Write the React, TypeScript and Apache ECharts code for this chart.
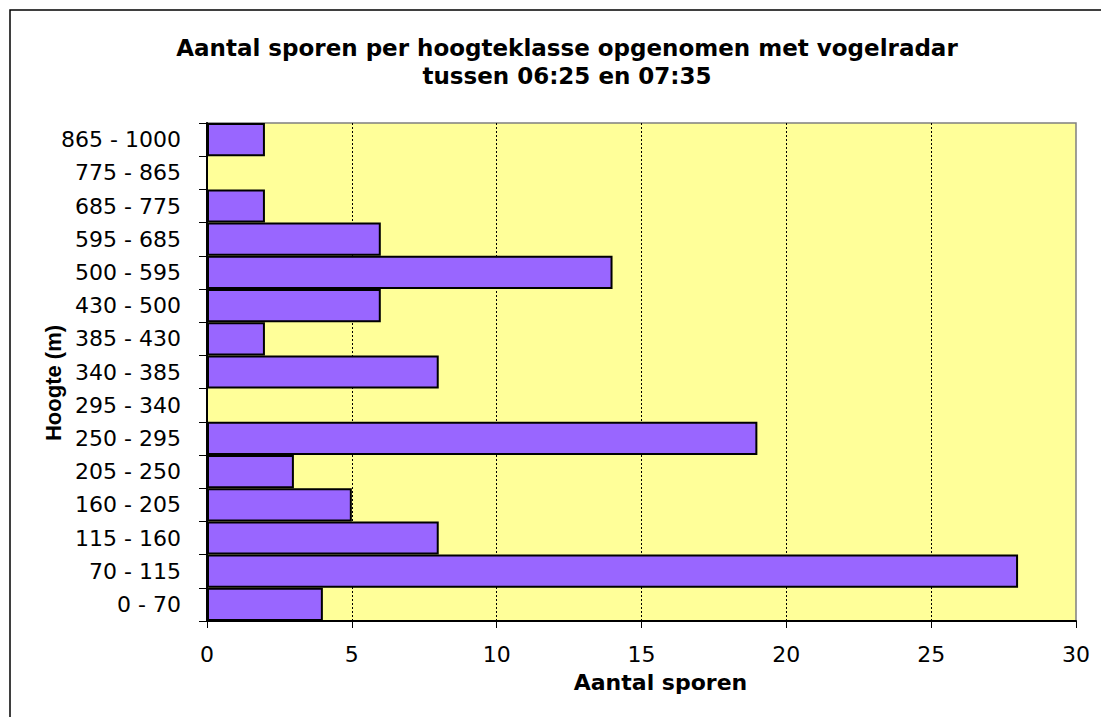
import React, { useEffect, useRef } from "react";
import * as echarts from "echarts";

const titleLines = [
  "Aantal sporen per hoogteklasse opgenomen met vogelradar",
  "tussen 06:25 en 07:35",
];
const categories = [
  "0 - 70",
  "70 - 115",
  "115 - 160",
  "160 - 205",
  "205 - 250",
  "250 - 295",
  "295 - 340",
  "340 - 385",
  "385 - 430",
  "430 - 500",
  "500 - 595",
  "595 - 685",
  "685 - 775",
  "775 - 865",
  "865 - 1000",
];
const sporen = [4, 28, 8, 5, 3, 19, 0, 8, 2, 6, 14, 6, 2, 0, 2];
const xAxisName = "Aantal sporen";
const yAxisName = "Hoogte (m)";

export default function App() {
  const ref = useRef<HTMLDivElement>(null);
  useEffect(() => {
    if (!ref.current) return;
    const chart = echarts.init(ref.current, undefined, { renderer: "svg" });
    chart.setOption({
      animation: false,
      backgroundColor: "#ffffff",
      title: {
        text: titleLines.join("\n"),
        left: 567,
        top: 34,
        textAlign: "center",
        padding: 0,
        textStyle: {
          fontFamily: "DejaVu Sans",
          fontWeight: "bold",
          fontSize: 23,
          lineHeight: 28,
          color: "#000",
        },
      },
      graphic: [
        {
          type: "rect",
          shape: { x: 10, y: 10, width: 1300, height: 1000 },
          style: { fill: "none", stroke: "#000", lineWidth: 1.5 },
          silent: true,
        },
      ],
      grid: {
        left: 207,
        top: 123,
        right: 25,
        bottom: 96,
        show: true,
        backgroundColor: "#FFFF99",
        borderColor: "#808080",
        borderWidth: 1.5,
        containLabel: false,
      },
      xAxis: {
        type: "value",
        min: 0,
        max: 30,
        interval: 5,
        name: xAxisName,
        nameLocation: "middle",
        nameGap: 50,
        nameMoveOverlap: false,
        nameTextStyle: {
          fontFamily: "DejaVu Sans",
          fontWeight: "bold",
          fontSize: 22,
          color: "#000",
          padding: [0, 0, 0, 38],
        },
        axisLine: { show: true, lineStyle: { color: "#000", width: 2 } },
        axisTick: { show: true, length: 7, lineStyle: { color: "#000", width: 1 } },
        axisLabel: {
          fontFamily: "DejaVu Sans",
          fontSize: 22,
          color: "#000",
          margin: 22,
        },
        splitLine: {
          show: true,
          showMinLine: false,
          showMaxLine: false,
          lineStyle: { color: "#000", width: 1, type: [2, 2] },
        },
      },
      yAxis: {
        type: "category",
        data: categories,
        name: yAxisName,
        nameLocation: "middle",
        nameRotate: 90,
        nameGap: 143,
        nameMoveOverlap: false,
        nameTextStyle: {
          fontFamily: "Liberation Sans",
          fontWeight: "bold",
          fontSize: 22,
          color: "#000",
          padding: [0, 22, 0, 0],
        },
        axisLine: { show: true, lineStyle: { color: "#000", width: 2 } },
        axisTick: { show: true, length: 8, lineStyle: { color: "#000", width: 1 } },
        axisLabel: {
          fontFamily: "DejaVu Sans",
          fontSize: 22,
          color: "#000",
          margin: 26,
        },
        splitLine: { show: false },
      },
      series: [
        {
          type: "bar",
          data: sporen,
          barCategoryGap: "0%",
          itemStyle: { color: "#9966FF", borderColor: "#000", borderWidth: 2 },
        },
      ],
    });
    return () => chart.dispose();
  }, []);
  return (
    <div
      ref={ref}
      style={{ position: "fixed", left: 0, top: 0, width: 1101, height: 717 }}
    />
  );
}
